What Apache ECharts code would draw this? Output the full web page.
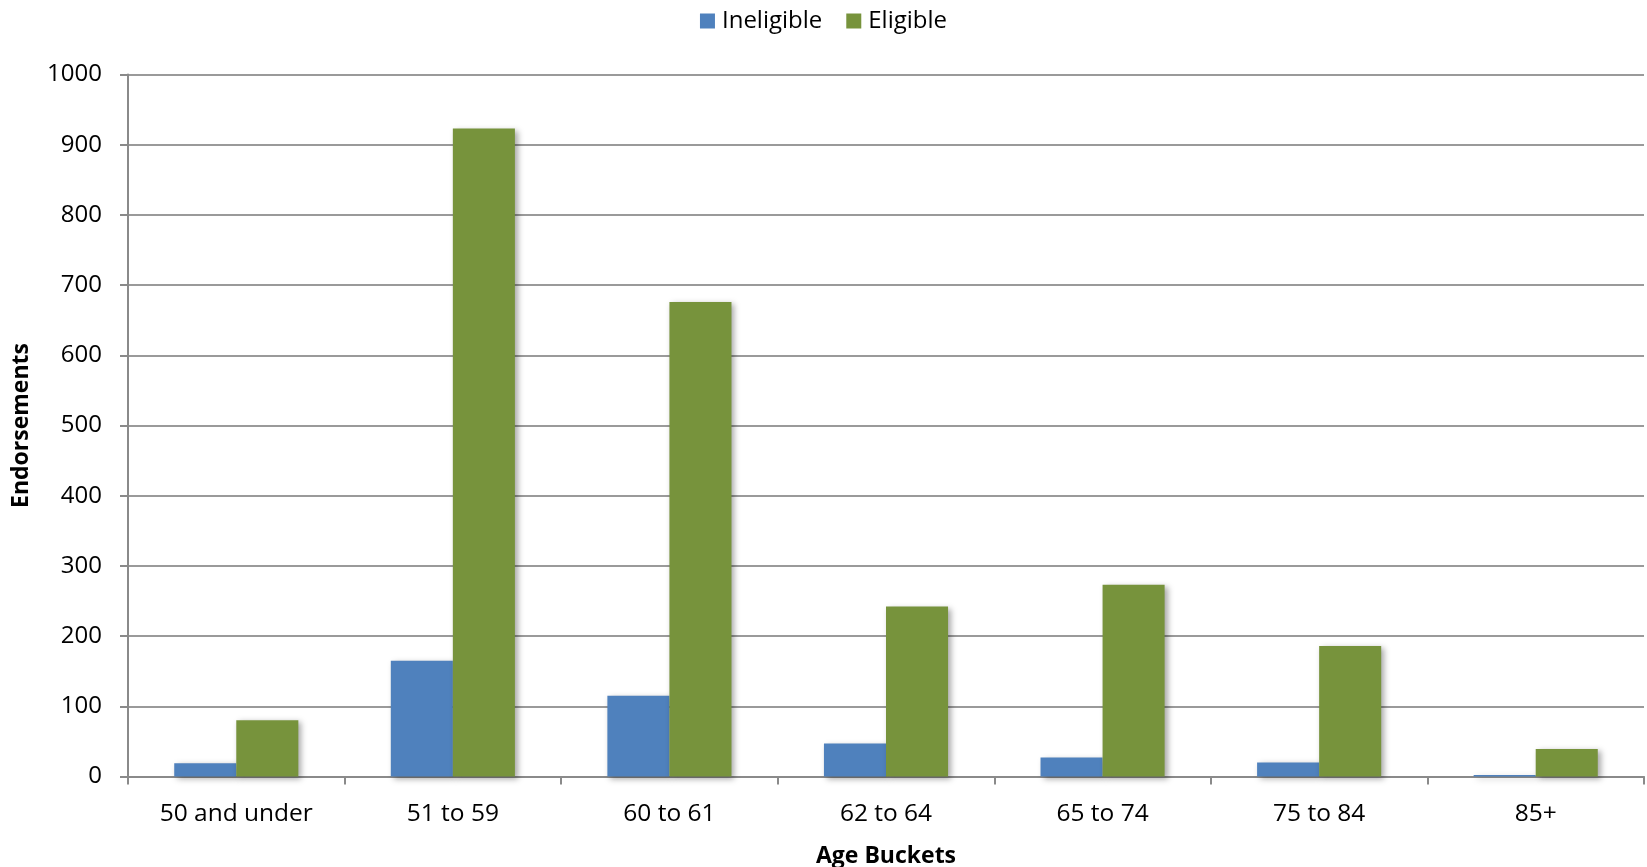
<!DOCTYPE html>
<html>
<head>
<meta charset="utf-8">
<title>Endorsements by Age Bucket</title>
<script src="https://cdn.jsdelivr.net/npm/echarts@6/dist/echarts.min.js"></script>
<style>
  html, body { margin: 0; padding: 0; background: #ffffff; }
  #chart { width: 1647px; height: 867px; }
</style>
</head>
<body>
<div id="chart"></div>
<script>
// Age buckets along the x axis
const categories = ['50 and under', '51 to 59', '60 to 61', '62 to 64', '65 to 74', '75 to 84', '85+'];

// Endorsement counts per bucket
const ineligible = [19, 165, 115, 47, 27, 20, 2];
const eligible = [80, 923, 676, 242, 273, 186, 39];

// Value axis range and step
const yMin = 0;
const yMax = 1000;
const yStep = 100;

const FONT = '"Open Sans", "Noto Sans", sans-serif';
const GRID_GRAY = '#9a9a9a';
const AXIS_GRAY = '#8a8a8a';

const barShadow = {
  shadowColor: 'rgba(0, 0, 0, 0.35)',
  shadowBlur: 6,
  shadowOffsetX: 3,
  shadowOffsetY: 2
};

const chart = echarts.init(document.getElementById('chart'), null, { renderer: 'canvas' });

chart.setOption({
  backgroundColor: '#ffffff',
  animation: false,
  textStyle: { fontFamily: FONT },
  legend: {
    top: 4,
    left: 'center',
    itemWidth: 15,
    itemHeight: 15,
    itemGap: 24,
    icon: 'rect',
    textStyle: { fontFamily: FONT, fontSize: 24, color: '#000000', padding: [0, 0, 0, 2] },
    data: ['Ineligible', 'Eligible']
  },
  grid: {
    left: 128,
    right: 3,
    top: 74.5,
    bottom: 90.5,
    containLabel: false,
    outerBoundsMode: 'none'
  },
  xAxis: {
    type: 'category',
    data: categories,
    boundaryGap: true,
    name: 'Age Buckets',
    nameLocation: 'middle',
    nameGap: 68,
    nameTextStyle: { fontFamily: FONT, fontSize: 23, fontWeight: 'bold', color: '#000000' },
    axisLine: { show: true, lineStyle: { color: AXIS_GRAY, width: 2 } },
    axisTick: { show: true, length: 8, lineStyle: { color: AXIS_GRAY, width: 2 } },
    axisLabel: { fontFamily: FONT, fontSize: 24.5, color: '#000000', margin: 25 },
    splitLine: { show: false }
  },
  yAxis: {
    type: 'value',
    min: yMin,
    max: yMax,
    interval: yStep,
    name: 'Endorsements',
    nameLocation: 'middle',
    nameGap: 95,
    nameTextStyle: { fontFamily: FONT, fontSize: 23, fontWeight: 'bold', color: '#000000' },
    axisLine: { show: true, lineStyle: { color: AXIS_GRAY, width: 2 } },
    axisTick: { show: true, length: 8, lineStyle: { color: AXIS_GRAY, width: 2 } },
    axisLabel: {
      fontFamily: FONT,
      fontSize: 24,
      color: '#000000',
      margin: 26,
      formatter: function (v) { return String(v); }
    },
    splitLine: { show: true, lineStyle: { color: GRID_GRAY, width: 2 } }
  },
  series: [
    {
      name: 'Ineligible',
      type: 'bar',
      data: ineligible,
      barGap: '0%',
      barCategoryGap: '42.7%',
      itemStyle: Object.assign({ color: '#4f81bd' }, barShadow)
    },
    {
      name: 'Eligible',
      type: 'bar',
      data: eligible,
      barGap: '0%',
      barCategoryGap: '42.7%',
      itemStyle: Object.assign({ color: '#77933c' }, barShadow)
    }
  ]
});
</script>
</body>
</html>
